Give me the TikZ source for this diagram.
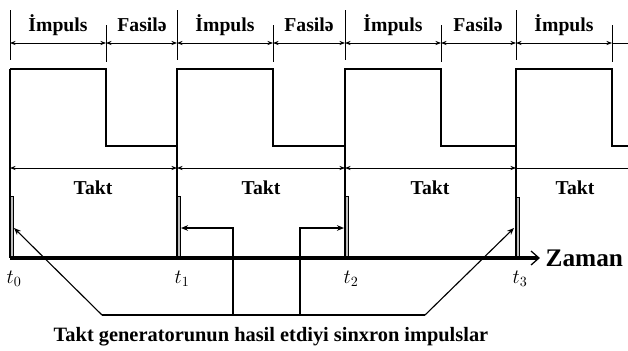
\documentclass[tikz,border=0pt]{standalone}
\usepackage{fontspec}
\setmainfont{Liberation Serif}
\usetikzlibrary{arrows.meta}

\begin{document}
\begin{tikzpicture}[x=0.025cm,y=-0.025cm,line width=0.9pt,
	lbl/.style={font=\bfseries\fontsize{14}{16}\selectfont, inner sep=0pt},
	tlbl/.style={font=\fontsize{14}{16}\selectfont, inner sep=0pt, anchor=west},
	dim/.style={{Stealth[length=4pt,width=3pt]}-{Stealth[length=4pt,width=3pt]}, line width=0.6pt},
	pulse/.style={draw, line width=0.7pt, fill=gray!50},
	ptr/.style={-{Stealth[length=5pt,width=4pt]}, line width=0.8pt}]
	\useasboundingbox (0,0) rectangle (628,350);
	% takt moments and pulse ends
	\coordinate (t0) at (10,0);
	\coordinate (t1) at (177,0);
	\coordinate (t2) at (345,0);
	\coordinate (t3) at (516,0);
	% ticks of the upper line
	\draw[line width=0.6pt] (10,10)--(10,60);
	\draw[line width=0.6pt] (106,25)--(106,62);
	\draw[line width=0.6pt] (177,10)--(177,60);
	\draw[line width=0.6pt] (273,25)--(273,62);
	\draw[line width=0.6pt] (345,10)--(345,60);
	\draw[line width=0.6pt] (441,25)--(441,62);
	\draw[line width=0.6pt] (516,10)--(516,60);
	\draw[line width=0.6pt] (612,25)--(612,62);
	\draw[dim] (10,43)--(106,43);
	\draw[dim] (106,43)--(177,43);
	\draw[dim] (177,43)--(273,43);
	\draw[dim] (273,43)--(345,43);
	\draw[dim] (345,43)--(441,43);
	\draw[dim] (441,43)--(516,43);
	\draw[dim] (516,43)--(612,43);
	\draw[dim,-] (612,43)--(628,43);
	\node[lbl] (i1) at (58,25) {İmpuls};
	\node[lbl] (f1) at (142,25) {Fasilə};
	\node[lbl] (i2) at (225,25) {İmpuls};
	\node[lbl] (f2) at (309,25) {Fasilə};
	\node[lbl] (i3) at (393,25) {İmpuls};
	\node[lbl] (f3) at (478,25) {Fasilə};
	\node[lbl] (i4) at (564,25) {İmpuls};
	% square wave
	\draw (10,69)--(106,69)--(106,146)--(177,146)--(177,69)--(273,69)--(273,146)
		--(345,146)--(345,69)--(441,69)--(441,146)--(516,146)--(516,69)--(612,69)
		--(612,146)--(628,146);
	\draw (10,69)--(10,258);
	\draw (177,146)--(177,258);
	\draw (345,146)--(345,258);
	\draw (516,146)--(516,258);
	% takt line
	\draw[dim] (10,168)--(177,168);
	\draw[dim] (177,168)--(345,168);
	\draw[dim] (345,168)--(516,168);
	\draw[dim,-] (516,168)--(628,168);
	\node[lbl] (k1) at (93,188) {Takt};
	\node[lbl] (k2) at (261,188) {Takt};
	\node[lbl] (k3) at (430,188) {Takt};
	\node[lbl] (k4) at (575,188) {Takt};
	% sync pulses
	\draw[pulse] (10,196) rectangle (13,258);
	\draw[pulse] (177,196) rectangle (180,258);
	\draw[pulse] (345,196) rectangle (348,258);
	\draw[pulse] (516,197) rectangle (519,258);
	% time axis
	\node[font=\bfseries\fontsize{18}{20}\selectfont, inner sep=0pt, anchor=west] (zaman) at (545,258) {Zaman};
	\draw[line width=2.2pt] (10,258)--(538,258);
	\draw[line width=0.9pt] (531,251)--(539,258)--(531,265);
	\node[tlbl] (lt0) at (6,279) {$t_0$};
	\node[tlbl] (lt1) at (174,279) {$t_1$};
	\node[tlbl] (lt2) at (343,279) {$t_2$};
	\node[tlbl] (lt3) at (512,279) {$t_3$};
	% pointers from the caption
	\coordinate (b0) at (102,315);
	\coordinate (b1) at (233,315);
	\coordinate (b2) at (300,315);
	\coordinate (b3) at (425,315);
	\coordinate (p0) at (14,228);
	\coordinate (p1) at (181,228);
	\coordinate (p2) at (344,228);
	\coordinate (p3) at (514,228);
	\draw (b0)--(b3);
	\draw[ptr] (b0)--(p0);
	\draw[ptr] (b1)--(233,228)--(p1);
	\draw[ptr] (b2)--(300,228)--(p2);
	\draw[ptr] (b3)--(p3);
	\node[font=\bfseries\fontsize{14.5}{16}\selectfont, inner sep=0pt] (cap) at (271,337) {Takt generatorunun hasil etdiyi sinxron impulslar};
\end{tikzpicture}
\end{document}
